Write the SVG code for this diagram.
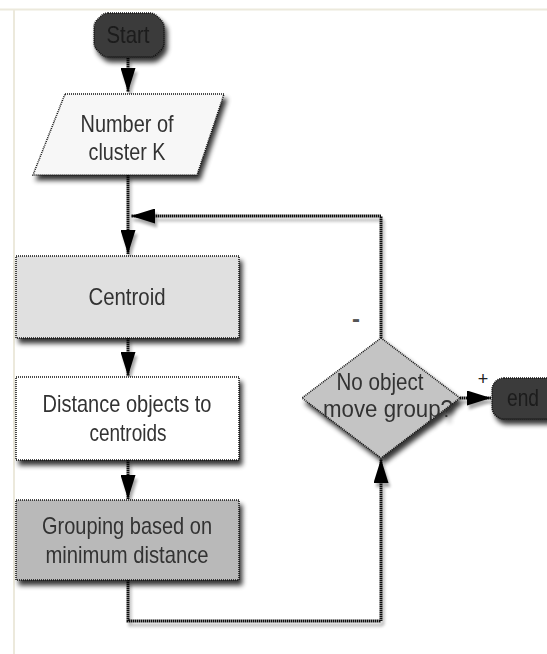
<svg xmlns="http://www.w3.org/2000/svg" width="547" height="654" viewBox="0 0 547 654">
<defs>
<filter id="sh" x="-20%" y="-20%" width="150%" height="160%">
<feGaussianBlur in="SourceAlpha" stdDeviation="2.5"/>
<feOffset dx="3" dy="5" result="b"/>
<feComponentTransfer><feFuncA type="linear" slope="0.8"/></feComponentTransfer>
<feMerge><feMergeNode/><feMergeNode in="SourceGraphic"/></feMerge>
</filter>
<filter id="lsh" x="-20%" y="-20%" width="150%" height="150%">
<feGaussianBlur in="SourceAlpha" stdDeviation="1.5"/>
<feOffset dx="2" dy="4" result="b"/>
<feComponentTransfer><feFuncA type="linear" slope="0.35"/></feComponentTransfer>
<feMerge><feMergeNode/><feMergeNode in="SourceGraphic"/></feMerge>
</filter>
<marker id="ah" viewBox="0 0 16 10" refX="16" refY="5" markerWidth="8" markerHeight="5" markerUnits="strokeWidth" orient="auto">
<path d="M0,0 L16,5 L0,10 z" fill="#000"/>
</marker>
</defs>
<style>
.node{stroke:#111;stroke-width:1.5;stroke-dasharray:1 1}
.lbl{font-family:"Liberation Sans",Arial,sans-serif;font-size:24px;fill:#333;text-anchor:middle}
.dark{fill:#1c1c1c}
.conn{fill:none;stroke:#111;stroke-width:3;stroke-dasharray:1.5 0.5}
</style>
<rect width="547" height="654" fill="#fff"/>
<line x1="0" y1="9.5" x2="547" y2="9.5" stroke="#ece9dc" stroke-width="2"/>
<line x1="14" y1="9" x2="14" y2="654" stroke="#ece9dc" stroke-width="2"/>

<g id="connectors" filter="url(#lsh)">
<path class="conn" d="M128,58 V92" marker-end="url(#ah)"/>
<path class="conn" d="M128,175 V254" marker-end="url(#ah)"/>
<path class="conn" d="M381,338 V216 H131" marker-end="url(#ah)"/>
<path class="conn" d="M128,338 V376" marker-end="url(#ah)"/>
<path class="conn" d="M128,460 V499" marker-end="url(#ah)"/>
<path class="conn" d="M128,580 V621 H381 V459" marker-end="url(#ah)"/>
<path class="conn" d="M460,398 H491" marker-end="url(#ah)"/>
</g>

<g id="start" filter="url(#sh)">
<path class="node" d="M108,13 H150 Q154,13 157,16 L161,20 Q164,23 164,27 V43 Q164,47 161,50 L157,54 Q154,57 150,57 H108 Q104,57 101,54 L97,50 Q94,47 94,43 V27 Q94,23 97,20 L101,16 Q104,13 108,13 Z" fill="#3a3a3a"/>
<text class="lbl dark" x="128" y="43" textLength="43" lengthAdjust="spacingAndGlyphs">Start</text>
</g>

<g id="input" filter="url(#sh)">
<path class="node" d="M65,94 H224 L197,175 H33 Z" fill="#f7f7f7"/>
<text class="lbl" x="127" y="132" textLength="93" lengthAdjust="spacingAndGlyphs">Number of</text>
<text class="lbl" x="127" y="160" textLength="77" lengthAdjust="spacingAndGlyphs">cluster K</text>
</g>

<g id="centroid" filter="url(#sh)">
<rect class="node" x="16" y="256" width="223" height="82" fill="#e0e0e0"/>
<text class="lbl" x="127" y="305" textLength="77" lengthAdjust="spacingAndGlyphs">Centroid</text>
</g>

<g id="distance" filter="url(#sh)">
<rect class="node" x="16" y="377" width="223" height="83" fill="#ffffff"/>
<text class="lbl" x="127" y="412" textLength="169" lengthAdjust="spacingAndGlyphs">Distance objects to</text>
<text class="lbl" x="128" y="441" textLength="77" lengthAdjust="spacingAndGlyphs">centroids</text>
</g>

<g id="grouping" filter="url(#sh)">
<rect class="node" x="16" y="500" width="223" height="80" fill="#b9b9b9"/>
<text class="lbl" x="127" y="534" textLength="170" lengthAdjust="spacingAndGlyphs">Grouping based on</text>
<text class="lbl" x="127" y="563" textLength="163" lengthAdjust="spacingAndGlyphs">minimum distance</text>
</g>

<g id="decision" filter="url(#sh)">
<path class="node" d="M381,338 L460,398 L381,458 L302,398 Z" fill="#c4c4c4"/>
<text class="lbl" x="380" y="390" textLength="87" lengthAdjust="spacingAndGlyphs">No object</text>
<text class="lbl" x="388" y="417" textLength="130" lengthAdjust="spacingAndGlyphs">move group?</text>
</g>

<g id="end" filter="url(#sh)">
<rect class="node" x="492" y="378" width="70" height="41" rx="12" fill="#3a3a3a"/>
<text class="lbl dark" x="523" y="406" textLength="32" lengthAdjust="spacingAndGlyphs">end</text>
</g>

<g id="labels">
<text class="lbl" x="356" y="327" style="fill:#555;font-weight:bold">-</text>
<text class="lbl" x="483" y="385" style="fill:#222;font-size:18px">+</text>
</g>
</svg>
